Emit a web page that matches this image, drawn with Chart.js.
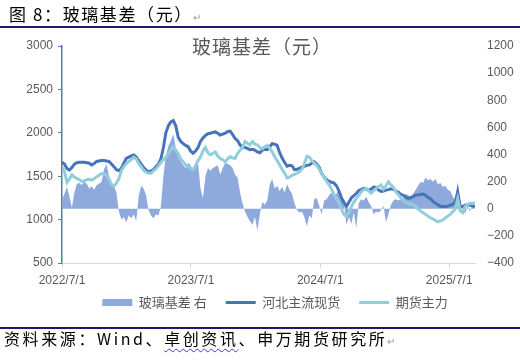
<!DOCTYPE html>
<html><head><meta charset="utf-8">
<script src="https://cdn.jsdelivr.net/npm/chart.js@4.4.1/dist/chart.umd.min.js"></script>
<style>
html,body{margin:0;padding:0;background:#fff;}
#wrap{position:relative;width:520px;height:361px;overflow:hidden;background:#fff;}
#c{position:absolute;left:0;top:0;}
.hdr{position:absolute;left:9px;top:4px;font-family:"Noto Sans CJK SC";font-size:17px;letter-spacing:1.6px;color:#000;white-space:nowrap;line-height:20px;}
.ttl{position:absolute;left:152px;width:220px;top:34px;text-align:center;font-family:"Noto Sans CJK SC";font-size:19px;letter-spacing:1px;color:#595959;line-height:24px;white-space:nowrap;}
.rule{position:absolute;left:0;width:520px;height:2px;background:#1c1c6e;}
.ftr{position:absolute;left:4px;top:327px;font-family:"Noto Sans CJK SC";font-size:16px;letter-spacing:2.6px;color:#000;white-space:nowrap;line-height:22px;}
.pm{color:#9a9a9a;font-size:10px;letter-spacing:0;}
.wavy{text-decoration:underline wavy #3b3bd6;text-decoration-thickness:1px;text-underline-offset:3px;}
</style>
</head><body>
<div id="wrap">
<canvas id="c" width="520" height="361"></canvas>
<div class="hdr">图 8：玻璃基差（元）<span class="pm">↵</span></div>
<div class="rule" style="top:26px"></div>
<div class="ttl">玻璃基差（元）</div>
<div class="rule" style="top:327px"></div>
<div class="ftr">资料来源：Wind、<span class="wavy">卓创资讯</span>、申万期货研究所<span class="pm">↵</span></div>
</div>
<script>
// weekly observations starting 2022-07-01
const startDate = '2022-07-01';
const stepDays = 7;
const xTickDates = ['2022-07-01', '2023-07-01', '2024-07-01', '2025-07-01'];
const seriesNames = ['玻璃基差 右', '河北主流现货', '期货主力'];

// 玻璃基差 (right axis)
const basisRight = [
  70,110,160,90,10,120,185,190,175,200,
  185,150,165,140,175,185,200,290,330,240,
  200,170,120,-20,-80,-60,-100,-50,-70,-40,
  -90,90,170,150,100,-10,-50,-70,-40,-50,
  20,240,390,460,500,550,450,380,350,320,
  300,340,320,280,330,340,150,80,240,300,
  280,300,310,320,250,300,340,330,320,300,
  250,230,120,40,-20,-60,-90,-120,-60,-160,
  -40,50,30,60,180,220,150,170,130,160,
  120,180,140,110,40,-10,-30,-20,-60,-130,
  -50,-70,70,80,20,-40,60,70,100,120,
  90,110,150,110,60,-120,-60,-110,-30,-140,
  40,70,60,90,50,20,-40,-20,-30,-10,
  20,-100,-40,30,60,70,60,70,80,110,
  100,90,110,140,170,200,190,230,210,220,
  200,220,180,190,160,170,140,130,90,60,
  200,-10,30,-40,20,-20,40,0
];
// 河北主流现货 (left axis)
const hebeiSpot = [
  1660,1640,1590,1570,1600,1640,1655,1660,1660,1660,
  1655,1650,1630,1645,1670,1675,1680,1680,1675,1670,
  1640,1610,1575,1565,1590,1650,1705,1720,1735,1745,
  1720,1680,1640,1600,1570,1550,1560,1575,1610,1640,
  1700,1830,2000,2080,2125,2140,2080,1950,1900,1875,
  1855,1840,1790,1765,1790,1830,1900,1940,1970,1990,
  1995,2005,2010,1995,1975,1985,1995,2015,2020,1980,
  1935,1910,1860,1835,1830,1820,1805,1810,1800,1780,
  1770,1800,1810,1805,1840,1875,1870,1855,1770,1710,
  1660,1615,1625,1620,1575,1580,1590,1605,1615,1625,
  1630,1650,1665,1640,1600,1530,1490,1460,1440,1430,
  1420,1390,1330,1250,1200,1150,1200,1250,1275,1300,
  1335,1345,1360,1350,1340,1350,1375,1370,1340,1325,
  1330,1340,1345,1355,1350,1330,1315,1290,1280,1260,
  1245,1250,1265,1280,1285,1290,1295,1280,1255,1240,
  1210,1190,1170,1150,1150,1150,1155,1165,1175,1200,
  1320,1150,1150,1165,1170,1165,1160,1150
];
// 期货主力 (left axis)
const futuresMain = [
  1610,1560,1430,1470,1515,1490,1475,1460,1440,1445,
  1460,1465,1455,1470,1495,1510,1530,1525,1510,1470,
  1400,1385,1420,1470,1565,1610,1645,1670,1690,1720,
  1700,1650,1610,1570,1545,1535,1535,1560,1585,1620,
  1660,1690,1720,1760,1800,1840,1800,1760,1700,1665,
  1630,1610,1590,1575,1620,1680,1720,1790,1830,1770,
  1745,1765,1780,1730,1705,1690,1665,1700,1725,1710,
  1705,1760,1800,1830,1900,1880,1860,1900,1870,1860,
  1830,1815,1840,1855,1820,1780,1725,1680,1630,1580,
  1535,1480,1490,1510,1520,1535,1550,1580,1640,1730,
  1720,1680,1650,1625,1580,1530,1485,1440,1400,1350,
  1290,1240,1190,1120,1060,1035,1080,1150,1200,1245,
  1280,1320,1345,1360,1330,1305,1330,1360,1380,1400,
  1350,1390,1435,1400,1370,1320,1290,1250,1220,1200,
  1185,1180,1170,1160,1120,1100,1080,1060,1040,1020,
  1010,990,975,985,995,1020,1040,1060,1090,1120,
  1240,1100,1080,1150,1170,1190,1185,1200
];

const dayNum = s => Date.UTC(+s.slice(0,4), +s.slice(5,7) - 1, +s.slice(8,10)) / 864e5;
const fmtDay = v => { const d = new Date(Math.round(v) * 864e5); return d.getUTCFullYear() + '/' + (d.getUTCMonth() + 1) + '/' + d.getUTCDate(); };
const dates = basisRight.map((_, i) => dayNum(startDate) + i * stepDays);
const pts = arr => arr.map((v, i) => ({x: dates[i], y: v}));

const FONT = '"Liberation Sans", "Noto Sans CJK SC", sans-serif';
const GRAY = '#595959';

// nudge the legend into the position it has in the reference
const legendShift = {
  id: 'legendShift',
  afterLayout(chart) {
    const l = chart.legend;
    if (!l) return;
    l.left += 15; l.right += 15; l.top -= 14; l.bottom -= 14;
  }
};

new Chart(document.getElementById('c'), {
  type: 'line',
  data: {
    datasets: [
      { label: seriesNames[0], data: pts(basisRight), yAxisID: 'y1', fill: 'origin',
        backgroundColor: '#8eaadc', borderColor: '#8eaadc', borderWidth: 0, pointRadius: 0,
        pointStyle: 'rect', order: 3, tension: 0 },
      { label: seriesNames[1], data: pts(hebeiSpot), yAxisID: 'y', fill: false,
        borderColor: '#4673b9', backgroundColor: '#4673b9', borderWidth: 3, pointRadius: 0,
        pointStyle: 'line', order: 2, tension: 0 },
      { label: seriesNames[2], data: pts(futuresMain), yAxisID: 'y', fill: false,
        borderColor: '#92cddc', backgroundColor: '#92cddc', borderWidth: 3, pointRadius: 0,
        pointStyle: 'line', order: 1, tension: 0 }
    ]
  },
  plugins: [legendShift],
  options: {
    responsive: false, animation: false, devicePixelRatio: 1,
    layout: { padding: { top: 46, left: 0, right: 0, bottom: 28 } },
    plugins: {
      title: { display: false }, tooltip: { enabled: false },
      legend: {
        position: 'bottom',
        labels: {
          usePointStyle: true, pointStyleWidth: 30, boxHeight: 7, padding: 19,
          color: GRAY, font: { family: '"Noto Sans CJK SC", sans-serif', size: 13 },
          sort: (a, b) => a.datasetIndex - b.datasetIndex
        }
      }
    },
    scales: {
      x: {
        type: 'linear', min: dates[0], max: dates[dates.length - 1],
        afterBuildTicks: s => { s.ticks = xTickDates.map(d => ({ value: dayNum(d) })); },
        afterFit: s => { s.height = 28; },
        ticks: { callback: v => fmtDay(v), autoSkip: false, maxRotation: 0, padding: 5,
                 color: GRAY, font: { family: FONT, size: 12 } },
        grid: { display: true, drawOnChartArea: false, drawTicks: true, tickLength: 5, color: '#d9d9d9' },
        border: { display: true, color: '#d9d9d9', width: 1 }
      },
      y: {
        position: 'left', min: 500, max: 3000,
        afterFit: s => { s.width = 62; },
        ticks: { stepSize: 500, padding: 5, color: GRAY, font: { family: FONT, size: 12 },
                 callback: v => String(v) },
        grid: { display: true, drawOnChartArea: false, drawTicks: true, tickLength: 4, color: '#4a7ebb' },
        border: { display: true, color: '#4a7ebb', width: 1.5 }
      },
      y1: {
        position: 'right', min: -400, max: 1200,
        afterFit: s => { s.width = 45; },
        ticks: { stepSize: 200, padding: 12, color: GRAY, font: { family: FONT, size: 12 },
                 callback: v => v < 0 ? '\u2212' + Math.abs(v) : String(v) },
        grid: { display: false, drawTicks: false },
        border: { display: false }
      }
    }
  }
});
</script>
</body></html>
